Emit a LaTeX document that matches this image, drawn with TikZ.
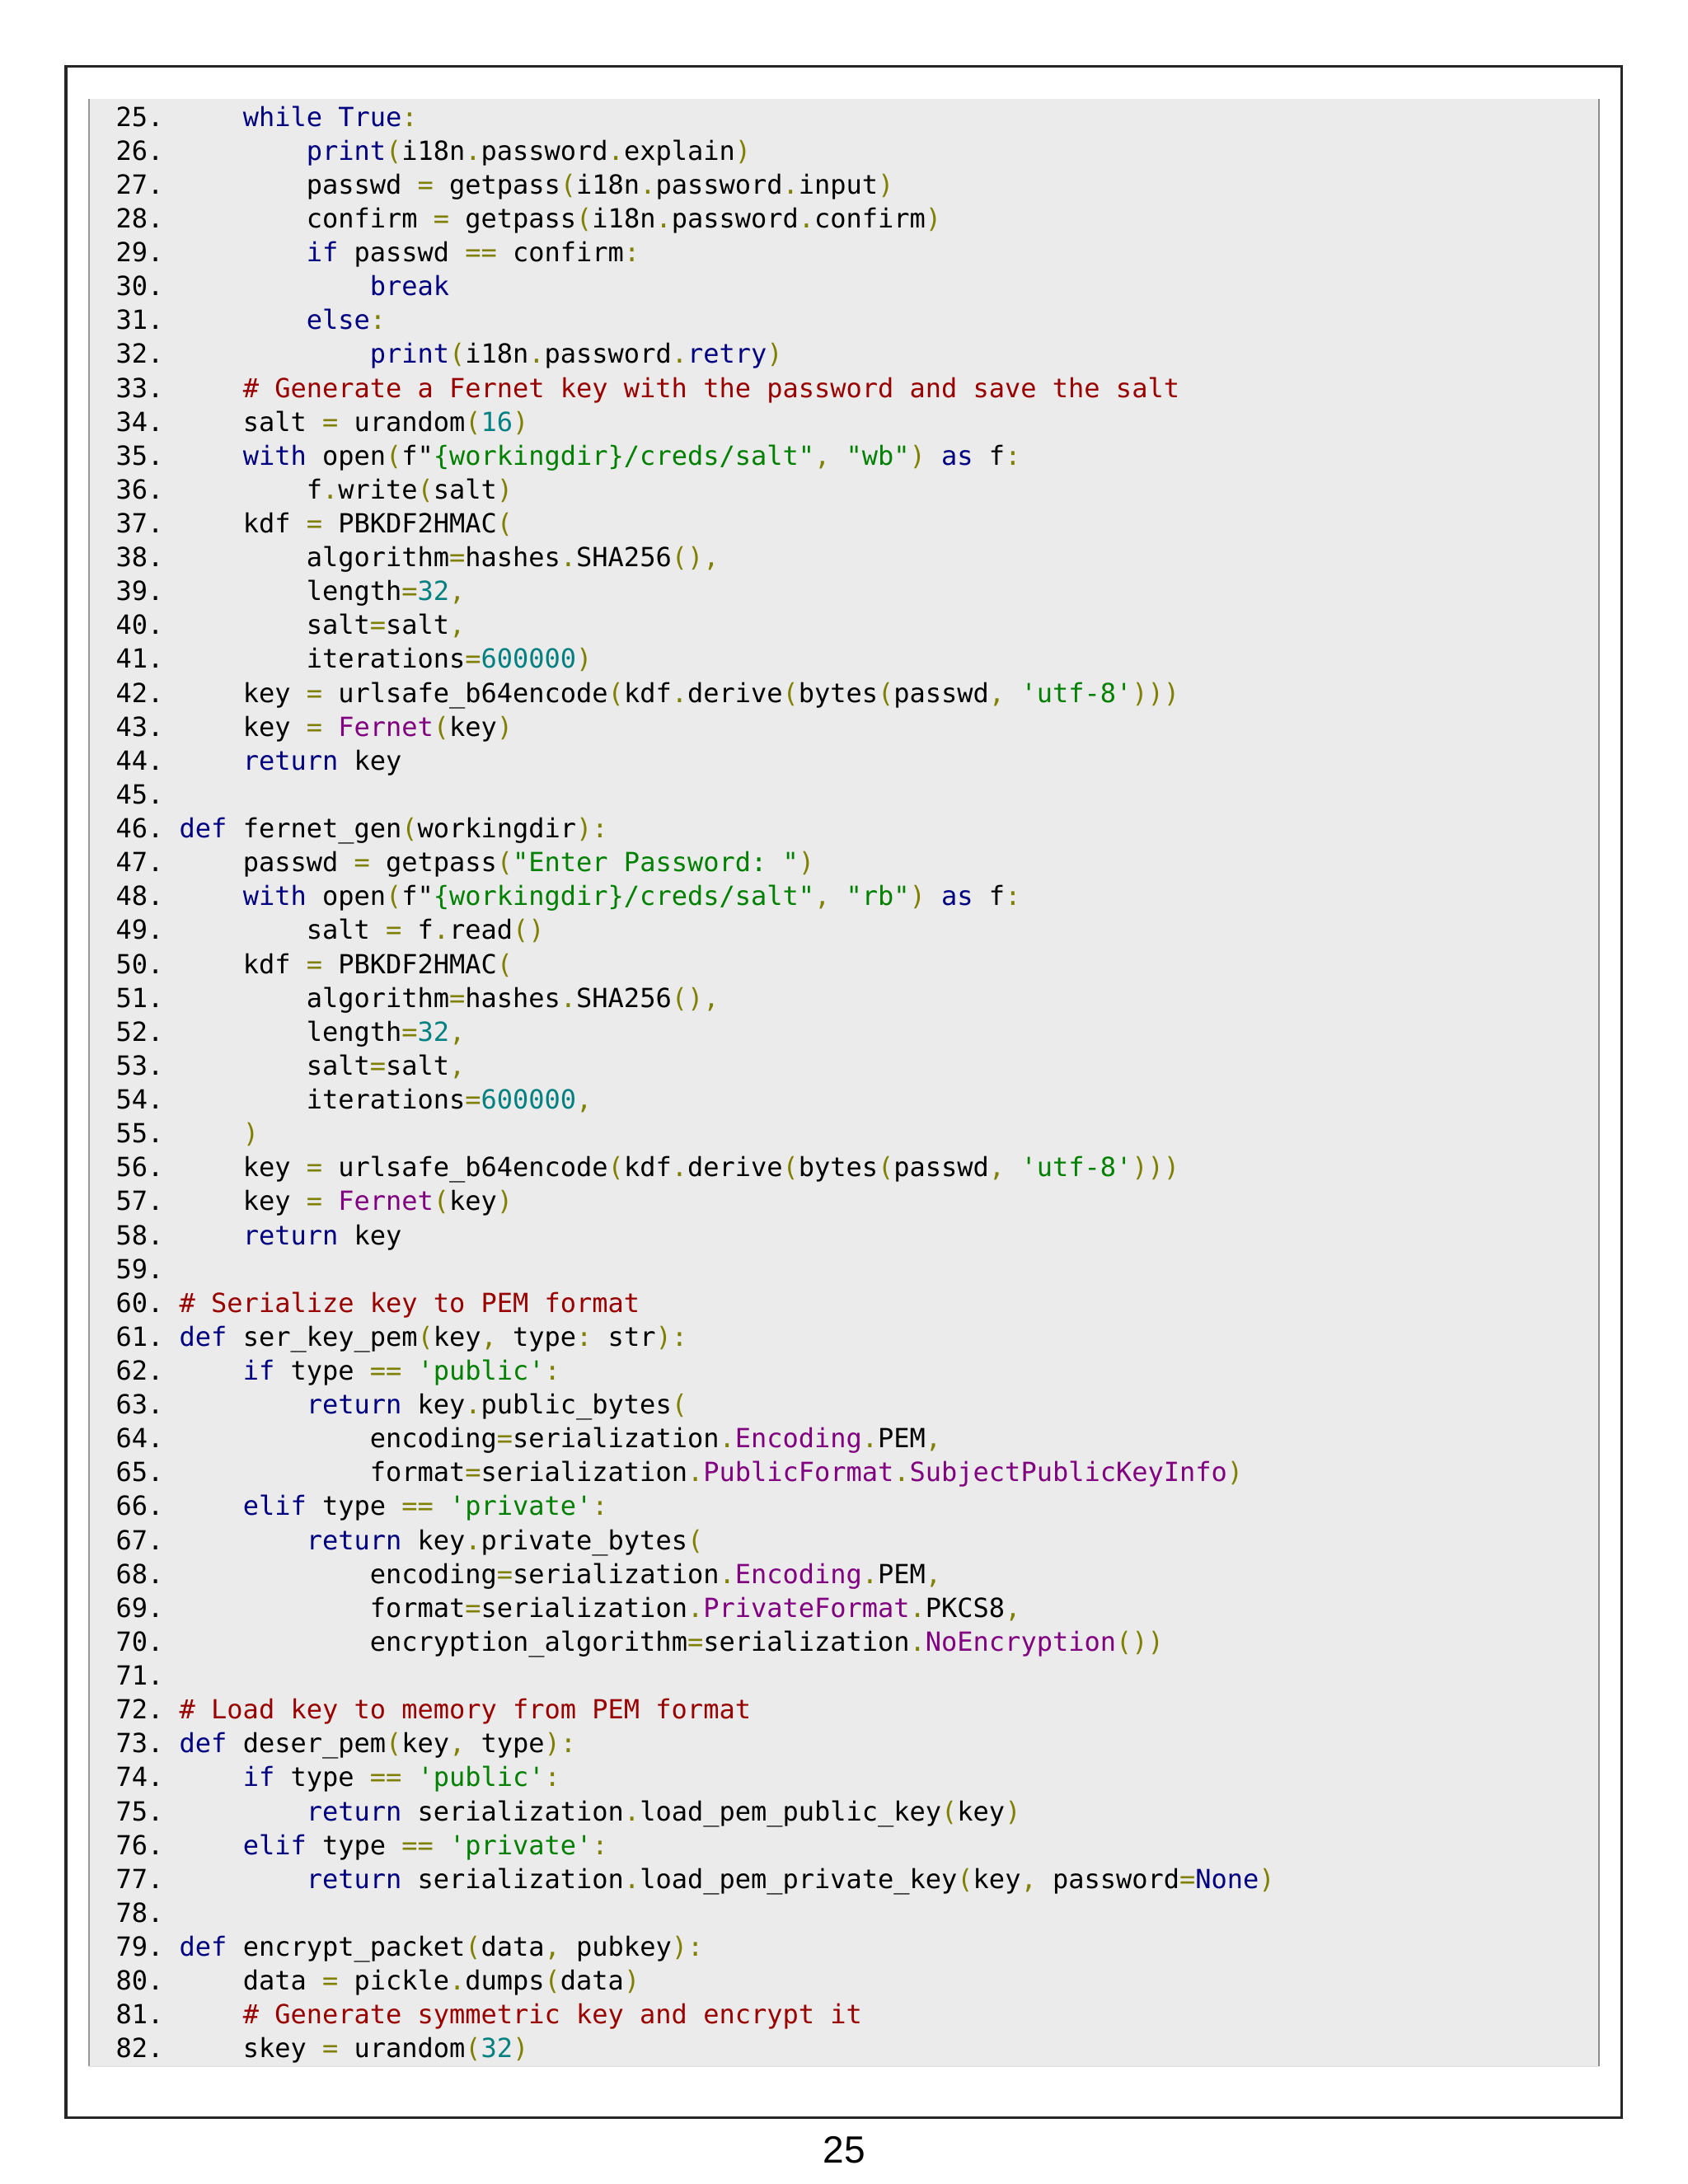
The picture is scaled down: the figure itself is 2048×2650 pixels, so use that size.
\documentclass[tikz,border=0pt]{standalone}
\usepackage{fontspec}
\setmonofont{DejaVu Sans Mono}
\newfontfamily\pagefont{Liberation Sans}

\definecolor{codebg}{HTML}{EBEBEB}
\definecolor{kwblue}{HTML}{000080}
\definecolor{opolive}{HTML}{808000}
\definecolor{numteal}{HTML}{008080}
\definecolor{strgreen}{HTML}{008000}
\definecolor{comred}{HTML}{990000}
\definecolor{clspurple}{HTML}{800080}

\newcommand\ckw[1]{\textcolor{kwblue}{#1}}
\newcommand\cop[1]{\textcolor{opolive}{#1}}
\newcommand\cnum[1]{\textcolor{numteal}{#1}}
\newcommand\cstr[1]{\textcolor{strgreen}{#1}}
\newcommand\ccom[1]{\textcolor{comred}{#1}}
\newcommand\ccls[1]{\textcolor{clspurple}{#1}}
\newcommand\ind{~~~~}

\tikzset{
  codeline/.style={anchor=base west, inner sep=0pt, font=\ttfamily\fontsize{9.56pt}{12pt}\selectfont},
  pagenum/.style={anchor=base, inner sep=0pt, font=\pagefont\fontsize{13.75pt}{16pt}\selectfont}
}

\begin{document}
\begin{tikzpicture}[x=0.29883pt, y=-0.29883pt]
  \useasboundingbox (0,0) rectangle (2048,2650);
  \fill[white] (0,0) rectangle (2048,2650);
  % page frame and code box
  \draw[line width=0.9pt, black!85] (80,80) rectangle (1967,2569);
  \fill[codebg] (108,120) rectangle (1940,2507);
  \draw[black!12, line width=0.3pt] (108,2507) -- (1940,2507);
  \draw[black!40, line width=0.6pt] (108,120) -- (108,2507);
  \draw[black!45, line width=0.6pt] (1940,120) -- (1940,2507);

  % code lines
  \node[codeline] (l25) at (140,153.0) {25.~\ind\ckw{while} \ckw{True}\cop{:}};
  \node[codeline] (l26) at (140,194.1) {26.~\ind\ind\ckw{print}\cop{(}i18n\cop{.}password\cop{.}explain\cop{)}};
  \node[codeline] (l27) at (140,235.2) {27.~\ind\ind passwd \cop{=} getpass\cop{(}i18n\cop{.}password\cop{.}input\cop{)}};
  \node[codeline] (l28) at (140,276.4) {28.~\ind\ind confirm \cop{=} getpass\cop{(}i18n\cop{.}password\cop{.}confirm\cop{)}};
  \node[codeline] (l29) at (140,317.5) {29.~\ind\ind\ckw{if} passwd \cop{==} confirm\cop{:}};
  \node[codeline] (l30) at (140,358.6) {30.~\ind\ind\ind\ckw{break}};
  \node[codeline] (l31) at (140,399.7) {31.~\ind\ind\ckw{else}\cop{:}};
  \node[codeline] (l32) at (140,440.8) {32.~\ind\ind\ind\ckw{print}\cop{(}i18n\cop{.}password\cop{.}\ckw{retry}\cop{)}};
  \node[codeline] (l33) at (140,482.0) {33.~\ind\ccom{\# Generate a Fernet key with the password and save the salt}};
  \node[codeline] (l34) at (140,523.1) {34.~\ind salt \cop{=} urandom\cop{(}\cnum{16}\cop{)}};
  \node[codeline] (l35) at (140,564.2) {35.~\ind\ckw{with} open\cop{(}f"\cstr{\{workingdir\}/creds/salt"}\cop{,} \cstr{"wb"}\cop{)} \ckw{as} f\cop{:}};
  \node[codeline] (l36) at (140,605.3) {36.~\ind\ind f\cop{.}write\cop{(}salt\cop{)}};
  \node[codeline] (l37) at (140,646.4) {37.~\ind kdf \cop{=} PBKDF2HMAC\cop{(}};
  \node[codeline] (l38) at (140,687.6) {38.~\ind\ind algorithm\cop{=}hashes\cop{.}SHA256\cop{(),}};
  \node[codeline] (l39) at (140,728.7) {39.~\ind\ind length\cop{=}\cnum{32}\cop{,}};
  \node[codeline] (l40) at (140,769.8) {40.~\ind\ind salt\cop{=}salt\cop{,}};
  \node[codeline] (l41) at (140,810.9) {41.~\ind\ind iterations\cop{=}\cnum{600000}\cop{)}};
  \node[codeline] (l42) at (140,852.0) {42.~\ind key \cop{=} urlsafe\_b64encode\cop{(}kdf\cop{.}derive\cop{(}bytes\cop{(}passwd\cop{,} \cstr{'utf-8'}\cop{)))}};
  \node[codeline] (l43) at (140,893.2) {43.~\ind key \cop{=} \ccls{Fernet}\cop{(}key\cop{)}};
  \node[codeline] (l44) at (140,934.3) {44.~\ind\ckw{return} key};
  \node[codeline] (l45) at (140,975.4) {45.};
  \node[codeline] (l46) at (140,1016.5) {46.~\ckw{def} fernet\_gen\cop{(}workingdir\cop{):}};
  \node[codeline] (l47) at (140,1057.6) {47.~\ind passwd \cop{=} getpass\cop{(}\cstr{"Enter Password: "}\cop{)}};
  \node[codeline] (l48) at (140,1098.8) {48.~\ind\ckw{with} open\cop{(}f"\cstr{\{workingdir\}/creds/salt"}\cop{,} \cstr{"rb"}\cop{)} \ckw{as} f\cop{:}};
  \node[codeline] (l49) at (140,1139.9) {49.~\ind\ind salt \cop{=} f\cop{.}read\cop{()}};
  \node[codeline] (l50) at (140,1181.0) {50.~\ind kdf \cop{=} PBKDF2HMAC\cop{(}};
  \node[codeline] (l51) at (140,1222.1) {51.~\ind\ind algorithm\cop{=}hashes\cop{.}SHA256\cop{(),}};
  \node[codeline] (l52) at (140,1263.2) {52.~\ind\ind length\cop{=}\cnum{32}\cop{,}};
  \node[codeline] (l53) at (140,1304.4) {53.~\ind\ind salt\cop{=}salt\cop{,}};
  \node[codeline] (l54) at (140,1345.5) {54.~\ind\ind iterations\cop{=}\cnum{600000}\cop{,}};
  \node[codeline] (l55) at (140,1386.6) {55.~\ind\cop{)}};
  \node[codeline] (l56) at (140,1427.7) {56.~\ind key \cop{=} urlsafe\_b64encode\cop{(}kdf\cop{.}derive\cop{(}bytes\cop{(}passwd\cop{,} \cstr{'utf-8'}\cop{)))}};
  \node[codeline] (l57) at (140,1468.8) {57.~\ind key \cop{=} \ccls{Fernet}\cop{(}key\cop{)}};
  \node[codeline] (l58) at (140,1510.0) {58.~\ind\ckw{return} key};
  \node[codeline] (l59) at (140,1551.1) {59.};
  \node[codeline] (l60) at (140,1592.2) {60.~\ccom{\# Serialize key to PEM format}};
  \node[codeline] (l61) at (140,1633.3) {61.~\ckw{def} ser\_key\_pem\cop{(}key\cop{,} type\cop{:} str\cop{):}};
  \node[codeline] (l62) at (140,1674.4) {62.~\ind\ckw{if} type \cop{==} \cstr{'public'}\cop{:}};
  \node[codeline] (l63) at (140,1715.6) {63.~\ind\ind\ckw{return} key\cop{.}public\_bytes\cop{(}};
  \node[codeline] (l64) at (140,1756.7) {64.~\ind\ind\ind encoding\cop{=}serialization\cop{.}\ccls{Encoding}\cop{.}PEM\cop{,}};
  \node[codeline] (l65) at (140,1797.8) {65.~\ind\ind\ind format\cop{=}serialization\cop{.}\ccls{PublicFormat}\cop{.}\ccls{SubjectPublicKeyInfo}\cop{)}};
  \node[codeline] (l66) at (140,1838.9) {66.~\ind\ckw{elif} type \cop{==} \cstr{'private'}\cop{:}};
  \node[codeline] (l67) at (140,1880.0) {67.~\ind\ind\ckw{return} key\cop{.}private\_bytes\cop{(}};
  \node[codeline] (l68) at (140,1921.2) {68.~\ind\ind\ind encoding\cop{=}serialization\cop{.}\ccls{Encoding}\cop{.}PEM\cop{,}};
  \node[codeline] (l69) at (140,1962.3) {69.~\ind\ind\ind format\cop{=}serialization\cop{.}\ccls{PrivateFormat}\cop{.}PKCS8\cop{,}};
  \node[codeline] (l70) at (140,2003.4) {70.~\ind\ind\ind encryption\_algorithm\cop{=}serialization\cop{.}\ccls{NoEncryption}\cop{())}};
  \node[codeline] (l71) at (140,2044.5) {71.};
  \node[codeline] (l72) at (140,2085.6) {72.~\ccom{\# Load key to memory from PEM format}};
  \node[codeline] (l73) at (140,2126.8) {73.~\ckw{def} deser\_pem\cop{(}key\cop{,} type\cop{):}};
  \node[codeline] (l74) at (140,2167.9) {74.~\ind\ckw{if} type \cop{==} \cstr{'public'}\cop{:}};
  \node[codeline] (l75) at (140,2209.0) {75.~\ind\ind\ckw{return} serialization\cop{.}load\_pem\_public\_key\cop{(}key\cop{)}};
  \node[codeline] (l76) at (140,2250.1) {76.~\ind\ckw{elif} type \cop{==} \cstr{'private'}\cop{:}};
  \node[codeline] (l77) at (140,2291.2) {77.~\ind\ind\ckw{return} serialization\cop{.}load\_pem\_private\_key\cop{(}key\cop{,} password\cop{=}\ckw{None}\cop{)}};
  \node[codeline] (l78) at (140,2332.4) {78.};
  \node[codeline] (l79) at (140,2373.5) {79.~\ckw{def} encrypt\_packet\cop{(}data\cop{,} pubkey\cop{):}};
  \node[codeline] (l80) at (140,2414.6) {80.~\ind data \cop{=} pickle\cop{.}dumps\cop{(}data\cop{)}};
  \node[codeline] (l81) at (140,2455.7) {81.~\ind\ccom{\# Generate symmetric key and encrypt it}};
  \node[codeline] (l82) at (140,2496.8) {82.~\ind skey \cop{=} urandom\cop{(}\cnum{32}\cop{)}};

  % page number
  \node[pagenum] (page) at (1024,2624) {25};
\end{tikzpicture}
\end{document}
